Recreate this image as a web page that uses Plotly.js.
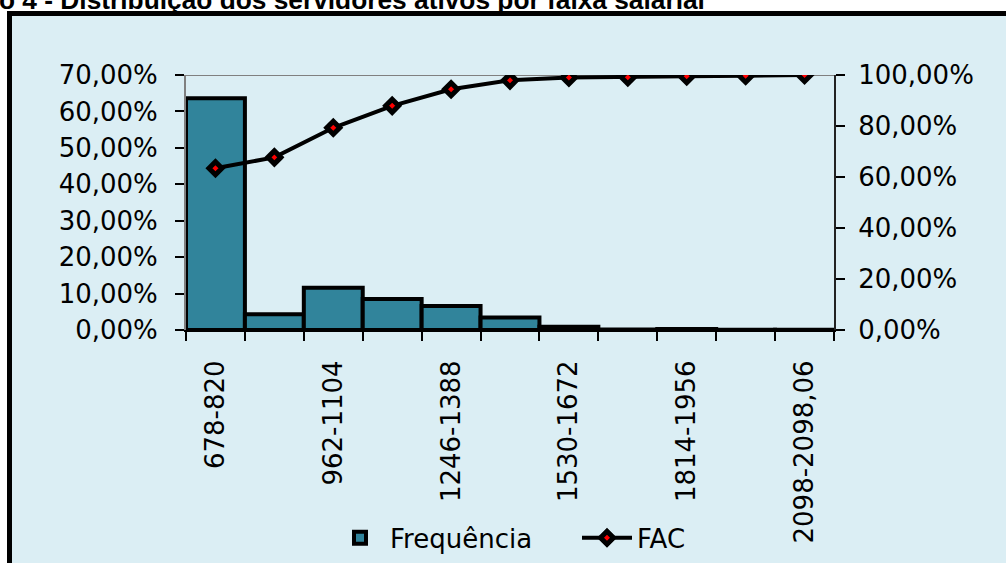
<!DOCTYPE html>
<html>
<head>
<meta charset="utf-8">
<script src="https://cdn.plot.ly/plotly-3.0.1.min.js"></script>
<style>
  html, body { margin:0; padding:0; background:#ffffff; width:1006px; height:563px; overflow:hidden; }
  #frame { position:absolute; left:7px; top:11px; width:1100px; height:700px; border:5px solid #000; background:#DBEEF4; box-sizing:border-box; }
  #chart { position:absolute; left:0; top:0; width:1006px; height:563px; }
</style>
</head>
<body>
<div id="frame"></div>
<div id="chart"></div>
<script>
const categories = ["678-820","820-962","962-1104","1104-1246","1246-1388","1388-1530","1530-1672","1672-1814","1814-1956","1956-2098","2098-2098,06"];
const frequencia = [63.6, 4.3, 11.6, 8.5, 6.6, 3.4, 0.9, 0.15, 0.3, 0.1, 0.1];
const fac = [63.4, 67.7, 79.3, 87.9, 94.4, 97.9, 99.0, 99.1, 99.5, 99.7, 100.0];
const tickLabels = categories.map((c, i) => i % 2 === 0 ? c : "");
const titleText = "Gráfico 4 - Distribuição dos servidores ativos por faixa salarial";

const font = {family: "DejaVu Sans, Verdana, sans-serif", size: 26, color: "#000"};

const traces = [
  {
    type: "bar", name: "Frequência", x: categories, y: frequencia,
    marker: {color: "#31849B", line: {color: "#000", width: 4}},
    yaxis: "y"
  },
  {
    type: "scatter", mode: "lines+markers", name: "FAC", x: categories, y: fac,
    line: {color: "#000", width: 4},
    marker: {symbol: "diamond", size: 10, color: "#FF0000", line: {color: "#000", width: 5}},
    yaxis: "y2"
  }
];

const layout = {
  width: 1006, height: 563,
  margin: {l: 186, r: 172, t: 75, b: 233, pad: 0, autoexpand: false},
  paper_bgcolor: "rgba(0,0,0,0)",
  plot_bgcolor: "rgba(0,0,0,0)",
  separators: ",.",
  font: font,
  bargap: 0,
  showlegend: true,
  legend: {orientation: "h", x: (330 - 186) / 648, xanchor: "left", y: -0.815, yanchor: "middle",
           font: font, bgcolor: "rgba(0,0,0,0)", itemwidth: 50, entrywidth: 182, entrywidthmode: "pixels",
           traceorder: "normal"},
  xaxis: {
    type: "category", tickmode: "array", tickvals: categories, ticktext: tickLabels,
    tickangle: -90, tickson: "boundaries", ticks: "outside", ticklen: 9, tickwidth: 2, tickcolor: "#000",
    showline: true, linecolor: "#000", linewidth: 2, showgrid: false, zeroline: false,
    tickfont: font, ticklabelstandoff: 18, range: [-0.5, 10.5], automargin: false
  },
  yaxis: {
    range: [0, 70], dtick: 10, tickformat: ".2f", ticksuffix: "%",
    ticks: "outside", ticklen: 9, tickwidth: 2, tickcolor: "#000",
    showline: true, linecolor: "#808080", linewidth: 2, showgrid: false, zeroline: false,
    tickfont: font, ticklabelstandoff: 12, automargin: false
  },
  yaxis2: {
    range: [0, 100], dtick: 20, tickformat: ".2f", ticksuffix: "%",
    overlaying: "y", side: "right",
    ticks: "outside", ticklen: 9, tickwidth: 2, tickcolor: "#000",
    showline: true, linecolor: "#222", linewidth: 2, showgrid: false, zeroline: false,
    tickfont: font, ticklabelstandoff: 8, automargin: false
  },
  shapes: [
    {type: "line", xref: "paper", yref: "y", x0: 0, x1: 1, y0: 70, y1: 70,
     line: {color: "#808080", width: 2}, layer: "below"}
  ],
  annotations: [
    {text: "<b>" + titleText + "</b>", xref: "paper", yref: "paper",
     x: (707 - 186) / 648, xanchor: "right", y: (330 - 17) / 255, yanchor: "bottom",
     showarrow: false, font: {family: "Liberation Sans, Arial, sans-serif", size: 26.3, color: "#000"}}
  ]
};

Plotly.newPlot("chart", traces, layout, {displayModeBar: false, staticPlot: true});
</script>
</body>
</html>
